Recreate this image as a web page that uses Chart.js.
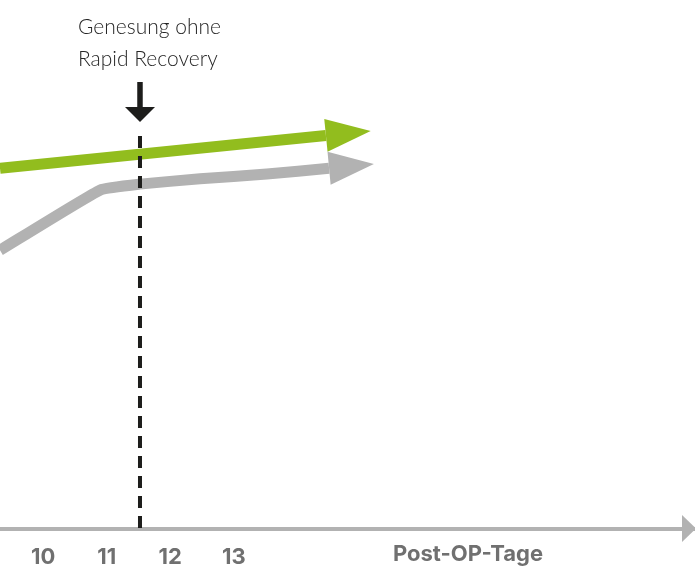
<!DOCTYPE html>
<html>
<head>
<meta charset="utf-8">
<script src="https://cdn.jsdelivr.net/npm/chart.js@4/dist/chart.umd.min.js"></script>
<style>
  html, body { margin: 0; padding: 0; background: #fff; }
  #wrap { width: 695px; height: 566px; position: relative; }
</style>
</head>
<body>
<div id="wrap"><canvas id="chart"></canvas></div>
<script>
// Post-operative days labelled on the time axis
const dayTicks = [10, 11, 12, 13];

// Recovery course with Rapid Recovery (green)
const rapidDays  = [9.32, 14.45];
const rapidLevel = [68.2, 74.4];

// Recovery course without Rapid Recovery (gray)
const standardDays  = [9.32, 10.9, 11.52, 12.47, 13.52, 14.5];
const standardLevel = [52.7, 64.1, 65.2, 66.2, 67.1, 68.2];

// Day on which recovery is reached without Rapid Recovery
const standardRecoveryDay = 11.5;
const markerLabel = ['Genesung ohne', 'Rapid Recovery'];
const axisTitle = 'Post-OP-Tage';

const GREEN = '#92bd1e';
const GRAY  = '#b2b2b2';
const DARK  = '#1d1d1b';
const LABEL = '#707070';
const LABEL_FONT = 'Inter';

const toPoints = (xs, ys) => xs.map((x, i) => ({ x, y: ys[i] }));

function triangle(ctx, a, b, c, color) {
  ctx.fillStyle = color;
  ctx.beginPath();
  ctx.moveTo(a[0], a[1]);
  ctx.lineTo(b[0], b[1]);
  ctx.lineTo(c[0], c[1]);
  ctx.closePath();
  ctx.fill();
}

// Arrowheads, the recovery marker and the axis title
const decorations = {
  id: 'decorations',
  afterDatasetsDraw(chart) {
    const { ctx, chartArea, scales: { x } } = chart;
    ctx.save();

    // arrowhead at the end of every course, following its final direction
    chart.data.datasets.forEach((ds, i) => {
      const pts = chart.getDatasetMeta(i).data;
      const end = pts[pts.length - 1];
      let dx, dy;
      if (end.cp1x !== undefined && Math.abs(end.x - end.cp1x) > 0.5) {
        dx = end.x - end.cp1x; dy = end.y - end.cp1y;
      } else {
        const prev = pts[pts.length - 2];
        dx = end.x - prev.x; dy = end.y - prev.y;
      }
      const l = Math.hypot(dx, dy), ux = dx / l, uy = dy / l;
      const len = 45, half = 16.5;
      triangle(ctx,
        [end.x + ux * len, end.y + uy * len],
        [end.x - uy * half, end.y + ux * half],
        [end.x + uy * half, end.y - ux * half],
        ds.borderColor);
    });

    // dashed marker at the recovery day
    const mx = x.getPixelForValue(standardRecoveryDay) + 1.5;
    ctx.strokeStyle = DARK;
    ctx.lineWidth = 4;
    ctx.setLineDash([12, 8]);
    ctx.beginPath();
    ctx.moveTo(mx, 136);
    ctx.lineTo(mx, chartArea.bottom);
    ctx.stroke();
    ctx.setLineDash([]);

    // pointer arrow above the marker
    ctx.lineWidth = 5.5;
    ctx.beginPath();
    ctx.moveTo(mx, 82);
    ctx.lineTo(mx, 109);
    ctx.stroke();
    triangle(ctx, [mx - 15, 107], [mx + 15, 107], [mx, 122], DARK);

    // marker caption
    ctx.fillStyle = '#262626';
    ctx.font = '300 21px Lato';
    ctx.textAlign = 'left';
    ctx.textBaseline = 'alphabetic';
    ctx.fillText(markerLabel[0], mx - 62, 34);
    ctx.fillText(markerLabel[1], mx - 62, 66);

    // time axis arrowhead
    const ay = chartArea.bottom;
    triangle(ctx, [682, ay - 14], [682, ay + 13], [696, ay - 0.5], GRAY);

    // axis title
    ctx.fillStyle = LABEL;
    ctx.font = `bold 22px ${LABEL_FONT}`;
    ctx.textAlign = 'center';
    ctx.fillText(axisTitle, 468, 561);

    ctx.restore();
  }
};

new Chart(document.getElementById('chart'), {
  type: 'line',
  data: {
    datasets: [
      {
        label: 'mit Rapid Recovery',
        data: toPoints(rapidDays, rapidLevel),
        borderColor: GREEN,
        borderWidth: 11,
        borderCapStyle: 'butt',
        pointRadius: 0,
        tension: 0
      },
      {
        label: 'ohne Rapid Recovery',
        data: toPoints(standardDays, standardLevel),
        borderColor: GRAY,
        borderWidth: 11,
        borderCapStyle: 'butt',
        borderJoinStyle: 'round',
        pointRadius: 0,
        tension: 0.12
      }
    ]
  },
  options: {
    responsive: true,
    maintainAspectRatio: false,
    animation: false,
    layout: { padding: 0 },
    plugins: { legend: { display: false }, tooltip: { enabled: false } },
    scales: {
      x: {
        type: 'linear',
        min: 9.32,
        max: 20.26,
        afterBuildTicks: (scale) => { scale.ticks = dayTicks.map(v => ({ value: v })); },
        afterFit: (scale) => { scale.height = 37; },
        grid: { display: false, drawTicks: false },
        border: { display: true, color: GRAY, width: 4 },
        ticks: {
          padding: 15,
          color: LABEL,
          font: { family: LABEL_FONT, weight: 'bold', size: 22 },
          maxRotation: 0,
          autoSkip: false,
          callback: (v) => String(v)
        }
      },
      y: {
        display: false,
        min: 0,
        max: 100
      }
    }
  },
  plugins: [decorations]
});
</script>
</body>
</html>
